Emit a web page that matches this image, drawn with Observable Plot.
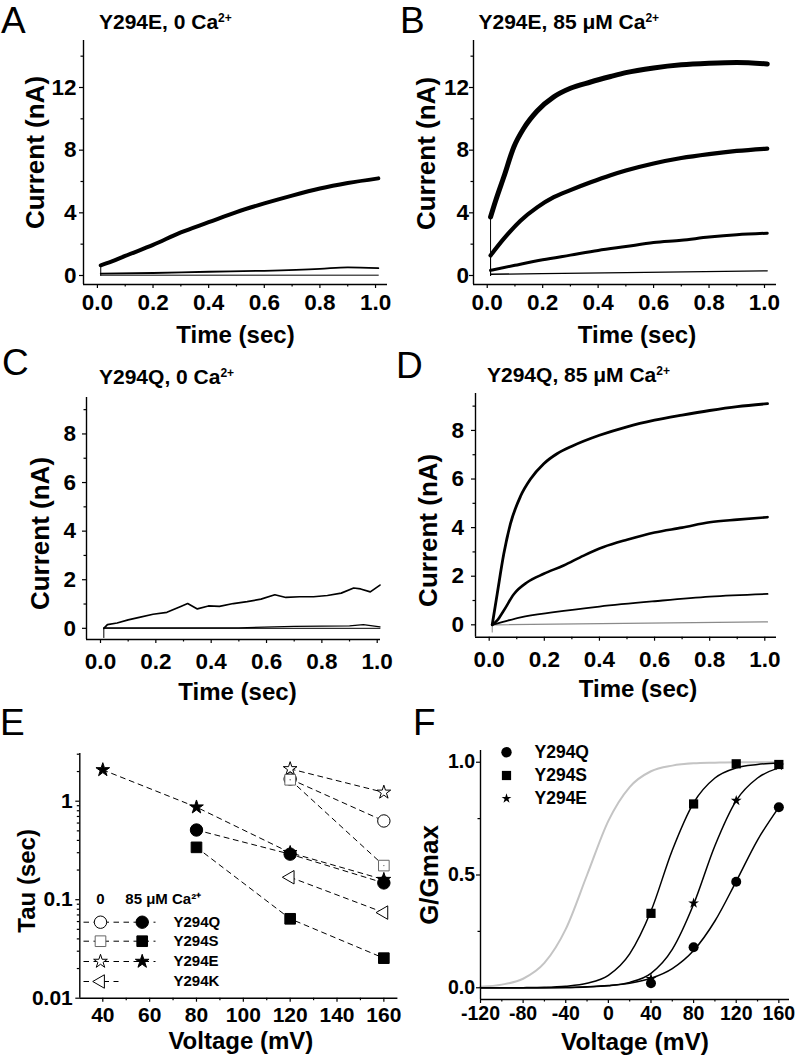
<!DOCTYPE html>
<html><head><meta charset="utf-8">
<script src="https://cdn.jsdelivr.net/npm/d3@7"></script>
<script src="https://cdn.jsdelivr.net/npm/@observablehq/plot@0.6"></script>
<style>
body{margin:0;background:#fff;}
#fig{position:relative;width:796px;height:1056px;overflow:hidden;font-family:"Liberation Sans",Arial,Helvetica,sans-serif;color:#000;}
.panel{position:absolute;}
.letter{position:absolute;font-size:37px;line-height:1;font-weight:normal;}
.title{position:absolute;font-size:21px;font-weight:bold;line-height:1;white-space:nowrap;}
.title sup{font-size:12px;vertical-align:0.62em;line-height:0;}
</style>
</head><body>
<div id="fig">
  <div class="letter" style="left:1px;top:2px">A</div>
  <div class="letter" style="left:400px;top:2px">B</div>
  <div class="letter" style="left:2px;top:344px">C</div>
  <div class="letter" style="left:396px;top:347px">D</div>
  <div class="letter" style="left:0px;top:704px">E</div>
  <div class="letter" style="left:413px;top:704px">F</div>
  <div class="title" style="left:99px;top:10.5px">Y294E, 0 Ca<sup>2+</sup></div>
  <div class="title" style="left:478.5px;top:10.5px">Y294E, 85 μM Ca<sup>2+</sup></div>
  <div class="title" style="left:99px;top:365.5px">Y294Q, 0 Ca<sup>2+</sup></div>
  <div class="title" style="left:487px;top:364px">Y294Q, 85 μM Ca<sup>2+</sup></div>
  <div class="panel" id="pA" style="left:0;top:0"></div>
  <div class="panel" id="pB" style="left:398px;top:0"></div>
  <div class="panel" id="pC" style="left:0;top:350px"></div>
  <div class="panel" id="pD" style="left:398px;top:350px"></div>
  <div class="panel" id="pE" style="left:0;top:700px"></div>
  <div class="panel" id="pF" style="left:398px;top:700px"></div>
</div>
<script>
// ---------- Panel A: Y294E, 0 Ca ----------
const A_t1 = [0.012, 0.012, 0.05, 0.1, 0.2, 0.3, 0.4, 0.5, 0.6, 0.7, 0.8, 0.9, 1.01];
const A_i1 = [0.0, 0.65, 0.88, 1.25, 1.95, 2.75, 3.4, 4.05, 4.6, 5.1, 5.55, 5.9, 6.2];
const A_t2 = [0.012, 0.2, 0.4, 0.6, 0.8, 0.9, 1.01];
const A_i2 = [0.12, 0.16, 0.24, 0.3, 0.42, 0.52, 0.47];
const A_t3 = [0.012, 1.01];
const A_i3 = [0.02, 0.02];
// ---------- Panel B: Y294E, 85 uM Ca ----------
const B_t1 = [0.012, 0.012, 0.03, 0.06, 0.096, 0.132, 0.18, 0.24, 0.3, 0.373, 0.445, 0.5, 0.6, 0.7, 0.8, 0.9, 1.01];
const B_i1 = [0.0, 3.73, 4.75, 6.3, 8.2, 9.4, 10.5, 11.4, 11.95, 12.35, 12.7, 12.95, 13.25, 13.45, 13.55, 13.6, 13.5];
const B_t2 = [0.012, 0.012, 0.06, 0.12, 0.18, 0.24, 0.3, 0.373, 0.445, 0.5, 0.6, 0.7, 0.8, 0.9, 1.01];
const B_i2 = [0.0, 1.28, 2.35, 3.5, 4.35, 5.0, 5.45, 5.95, 6.4, 6.7, 7.15, 7.5, 7.75, 7.95, 8.1];
const B_t3 = [0.012, 0.012, 0.1, 0.2, 0.3, 0.4, 0.5, 0.6, 0.7, 0.8, 0.9, 1.01];
const B_i3 = [0.0, 0.33, 0.65, 1.0, 1.3, 1.6, 1.85, 2.1, 2.25, 2.45, 2.6, 2.7];
const B_t4 = [0.012, 0.5, 1.01];
const B_i4 = [0.08, 0.18, 0.3];
// ---------- Panel C: Y294Q, 0 Ca ----------
const C_t1 = [0.012, 0.025, 0.06, 0.1, 0.14, 0.19, 0.24, 0.29, 0.315, 0.35, 0.39, 0.43, 0.48, 0.53, 0.58, 0.63, 0.67, 0.72, 0.77, 0.82, 0.87, 0.915, 0.94, 0.975, 1.01];
const C_i1 = [0.0, 0.15, 0.22, 0.35, 0.45, 0.58, 0.66, 0.9, 1.02, 0.8, 0.92, 0.9, 1.02, 1.1, 1.2, 1.38, 1.27, 1.3, 1.3, 1.35, 1.45, 1.66, 1.62, 1.5, 1.78];
const C_t2 = [0.012, 0.5, 0.7, 0.9, 0.95, 1.01];
const C_i2 = [0.02, 0.02, 0.08, 0.1, 0.15, 0.06];
const C_t3 = [0.012, 0.012, 1.01];
const C_i3 = [-0.38, 0.0, 0.0];
// ---------- Panel D: Y294Q, 85 uM Ca ----------
const D_t1 = [0.011, 0.029, 0.053, 0.077, 0.114, 0.15, 0.198, 0.246, 0.3, 0.4, 0.5, 0.6, 0.7, 0.8, 0.9, 1.01];
const D_i1 = [0.0, 1.27, 2.92, 4.15, 5.3, 6.0, 6.63, 7.04, 7.35, 7.8, 8.15, 8.42, 8.63, 8.82, 8.98, 9.1];
const D_t2 = [0.011, 0.029, 0.053, 0.09, 0.138, 0.198, 0.27, 0.343, 0.415, 0.5, 0.6, 0.7, 0.8, 0.9, 1.01];
const D_i2 = [0.0, 0.18, 0.59, 1.27, 1.75, 2.1, 2.44, 2.85, 3.2, 3.5, 3.8, 4.0, 4.22, 4.33, 4.43];
const D_t3 = [0.011, 0.05, 0.114, 0.235, 0.4, 0.6, 0.8, 1.01];
const D_i3 = [0.0, 0.12, 0.31, 0.52, 0.75, 0.97, 1.16, 1.27];
const D_t4 = [0.011, 0.011, 1.01];
const D_i4 = [-0.3, 0.0, 0.12];
// ---------- Panel E: Tau vs voltage ----------
const tauV_0 = [120, 160];
const tauQ_0 = [1.68, 0.63];
const tauS_0 = [1.65, 0.222];
const tauE_0 = [2.13, 1.23];
const tauK_0 = [0.169, 0.074];
const tauV_85 = [80, 120, 160];
const tauQ_85 = [0.51, 0.29, 0.148];
const tauS_85 = [0.34, 0.064, 0.0255];
const tauV_E85 = [40, 80, 120, 160];
const tauE_85 = [2.08, 0.87, 0.30, 0.16];
const tauLegend = ["Y294Q", "Y294S", "Y294E", "Y294K"];
// ---------- Panel F: G/Gmax ----------
const gV = [40, 80, 120, 160];
const gQ = [0.02, 0.18, 0.47, 0.80];
const gS = [0.33, 0.815, 0.993, 0.99];
const gE = [0.04, 0.375, 0.83, 0.985];
const fitV = [-120, -100, -80, -60, -40, -20, 0, 20, 40, 60, 80, 100, 120, 140, 160];
const fitGray = [0.005, 0.014, 0.04, 0.11, 0.26, 0.5, 0.74, 0.89, 0.96, 0.985, 0.995, 0.998, 1.0, 1.0, 1.0];
const fitS = [0, 0, 0.0005, 0.002, 0.007, 0.02, 0.055, 0.15, 0.34, 0.61, 0.82, 0.93, 0.975, 0.99, 0.997];
const fitE = [0, 0, 0, 0.0005, 0.0012, 0.0035, 0.009, 0.024, 0.064, 0.17, 0.37, 0.63, 0.83, 0.93, 0.975];
const fitQ = [0, 0, 0.0003, 0.0006, 0.0013, 0.0045, 0.01, 0.02, 0.042, 0.085, 0.165, 0.296, 0.472, 0.655, 0.80];
const fLegend = ["Y294Q", "Y294S", "Y294E"];

// tick labels
const timeTicks = [0, 0.2, 0.4, 0.6, 0.8, 1.0];
const timeMinor = [0.1, 0.3, 0.5, 0.7, 0.9];
const curTicksAB = [0, 4, 8, 12];
const curMinorAB = [2, 6, 10, 14];
const curTicksCD = [0, 2, 4, 6, 8];
const curMinorCD = [1, 3, 5, 7, 9];
const tauTicks = [0.01, 0.1, 1];
const tauMinor = [0.02,0.03,0.04,0.05,0.06,0.07,0.08,0.09,0.2,0.3,0.4,0.5,0.6,0.7,0.8,0.9,2,3];
const vTicksE = [40, 60, 80, 100, 120, 140, 160];
const vMinorE = [50, 70, 90, 110, 130, 150];
const vTicksF = [-120, -80, -40, 0, 40, 80, 120, 160];
const vMinorF = [-100, -60, -20, 20, 60, 100, 140];
const gTicks = [0, 0.5, 1.0];
const gMinor = [0.25, 0.75];

const FONT = '"Liberation Sans", Arial, Helvetica, sans-serif';
const pts = (t, v) => t.map((d, k) => ({x: d, y: v[k]}));
const fmt1 = d3.format(".1f");

function axes(o) {
  return [
    Plot.ruleX([o.xDomain[0]], {stroke: "black", strokeWidth: 1.4}),
    Plot.ruleY([o.yDomain[0]], {stroke: "black", strokeWidth: 1.4}),
    Plot.axisX({ticks: o.xTicks, tickFormat: o.xFmt, tickSize: 4, tickPadding: o.xPad, fontSize: o.tickFont, fontWeight: "bold", label: null, strokeWidth: 1.2}),
    Plot.axisX({ticks: o.xMinor, tickFormat: () => "", tickSize: 2.5, label: null, strokeWidth: 1.2}),
    Plot.axisY({ticks: o.yTicks, tickFormat: o.yFmt, tickSize: 4, tickPadding: o.yPad, fontSize: o.tickFont, fontWeight: "bold", label: null, strokeWidth: 1.2}),
    Plot.axisY({ticks: o.yMinor, tickFormat: () => "", tickSize: 2.5, label: null, strokeWidth: 1.2}),
    Plot.text([o.xLabel], {text: d => d, frameAnchor: "bottom", textAnchor: "middle", lineAnchor: "middle", dx: o.xlDx, dy: o.xlDy, fontSize: o.xlFont, fontWeight: "bold"}),
    Plot.text([o.yLabel], {text: d => d, frameAnchor: "left", textAnchor: "middle", lineAnchor: "middle", rotate: -90, dx: o.ylDx, dy: o.ylDy, fontSize: o.ylFont, fontWeight: "bold"})
  ];
}

// split a trace at its onset step (two samples at the same time) so the step is drawn straight
function traceMarks(tr) {
  const color = tr.color || "black";
  const out = [];
  let start = 0;
  if (tr.t.length > 2 && tr.t[0] === tr.t[1]) {
    out.push(Plot.line(pts(tr.t.slice(0, 2), tr.i.slice(0, 2)), {x: "x", y: "y", stroke: color, strokeWidth: 1, curve: "linear"}));
    start = 1;
  }
  out.push(Plot.line(pts(tr.t.slice(start), tr.i.slice(start)), {x: "x", y: "y", stroke: color, strokeWidth: tr.w, curve: tr.curve || "monotone-x", strokeLinejoin: "round"}));
  return out;
}

function tracePanel(o) {
  const marks = o.traces.flatMap(traceMarks);
  return Plot.plot({
    width: 398, height: o.height,
    marginLeft: o.m[0], marginRight: o.m[1], marginTop: o.m[2], marginBottom: o.m[3],
    x: {domain: o.xDomain}, y: {domain: o.yDomain},
    style: {fontFamily: FONT, background: "transparent", overflow: "visible", color: "black"},
    marks: [
      ...marks,
      ...axes({
        xDomain: o.xDomain, yDomain: o.yDomain,
        xTicks: timeTicks, xMinor: timeMinor, xFmt: fmt1, xPad: o.xPad,
        yTicks: o.yTicks, yMinor: o.yMinor, yFmt: d => String(d), yPad: o.yPad,
        tickFont: 22.5, xLabel: "Time (sec)", yLabel: "Current (nA)",
        xlDx: o.xlDx, xlDy: o.xlDy, xlFont: 24, ylDx: o.ylDx, ylDy: o.ylDy, ylFont: 26
      })
    ]
  });
}

document.getElementById("pA").append(tracePanel({
  height: 350, m: [83, 11, 40, 66], xDomain: [-0.05, 1.043], yDomain: [-0.575, 15.0],
  yTicks: curTicksAB, yMinor: curMinorAB, xPad: 6, yPad: 3,
  xlDx: 0, xlDy: 51, ylDx: -48, ylDy: -10,
  traces: [
    {t: A_t3, i: A_i3, w: 1},
    {t: A_t2, i: A_i2, w: 1.8},
    {t: A_t1, i: A_i1, w: 4}
  ]
}));

document.getElementById("pB").append(tracePanel({
  height: 350, m: [75, 20, 40, 66], xDomain: [-0.0495, 1.0433], yDomain: [-0.575, 15.0],
  yTicks: curTicksAB, yMinor: curMinorAB, xPad: 6, yPad: 0.5,
  xlDx: 12, xlDy: 51, ylDx: -47, ylDy: -9,
  traces: [
    {t: B_t4, i: B_i4, w: 1.3},
    {t: B_t3, i: B_i3, w: 3},
    {t: B_t2, i: B_i2, w: 4.2},
    {t: B_t1, i: B_i1, w: 5}
  ]
}));

document.getElementById("pC").append(tracePanel({
  height: 355, m: [86, 18, 47, 66], xDomain: [-0.0506, 1.0119], yDomain: [-0.46, 9.5],
  yTicks: curTicksCD, yMinor: curMinorCD, xPad: 9.5, yPad: 6.5,
  xlDx: 4, xlDy: 52.7, ylDx: -46, ylDy: 15,
  traces: [
    {t: C_t3, i: C_i3, w: 1, curve: "linear"},
    {t: C_t2, i: C_i2, w: 1.3, curve: "linear"},
    {t: C_t1, i: C_i1, w: 1.7, curve: "linear"}
  ]
}));

document.getElementById("pD").append(tracePanel({
  height: 355, m: [77, 20, 43, 68.3], xDomain: [-0.0497, 1.0425], yDomain: [-0.51, 9.52],
  yTicks: curTicksCD, yMinor: curMinorCD, xPad: 9.5, yPad: 7.5,
  xlDx: 12, xlDy: 52.3, ylDx: -47, ylDy: 15,
  traces: [
    {t: D_t4, i: D_i4, w: 1.2, color: "#8a8a8a", curve: "linear"},
    {t: D_t3, i: D_i3, w: 1.8},
    {t: D_t2, i: D_i2, w: 2.6},
    {t: D_t1, i: D_i1, w: 2.8}
  ]
}));

// ---------- Panel E ----------
const dashSym = len => ({draw(ctx) { for (let x = 0; x < len; x += 10) { ctx.moveTo(x, 0); ctx.lineTo(Math.min(x + 5.5, len), 0); } }});
const dashLine = {stroke: "black", strokeWidth: 1, strokeDasharray: "5,4.5"};
const openS = {fill: "white", stroke: "black", strokeWidth: 1};
const fillS = {fill: "black", stroke: "black", strokeWidth: 1};
const symE = {
  Q: {symbol: "circle", r: 6.2},
  S: {symbol: "square", r: 6},
  E: {symbol: "star", r: 4.3},
  K: {symbol: "triangle", r: 5, rotate: -90}
};
const rowDy = [-76, -57, -36.7, -16.7];
const rowKeys = ["Q", "S", "E", "K"];
const legendE = [];
rowKeys.forEach((k, r) => {
  const has85 = k !== "K";
  legendE.push(Plot.dot([0], {frameAnchor: "bottom-left", dx: 3.7, dy: rowDy[r], symbol: dashSym(has85 ? 72 : 35), r: 1, fill: "none", stroke: "black", strokeWidth: 1}));
  legendE.push(Plot.dot([0], {frameAnchor: "bottom-left", dx: 20.7, dy: rowDy[r], ...symE[k], ...openS, stroke: k === "S" ? "#666" : "black"}));
  if (has85) legendE.push(Plot.dot([0], {frameAnchor: "bottom-left", dx: 62.4, dy: rowDy[r], ...symE[k], ...fillS}));
  legendE.push(Plot.text([tauLegend[r]], {text: d => d, frameAnchor: "bottom-left", textAnchor: "start", lineAnchor: "middle", dx: 93.7, dy: rowDy[r], fontSize: 15, fontWeight: "bold"}));
});
legendE.push(Plot.text(["0"], {text: d => d, frameAnchor: "bottom-left", textAnchor: "middle", lineAnchor: "middle", dx: 20.7, dy: -98.7, fontSize: 15, fontWeight: "bold"}));
legendE.push(Plot.text(["85 μM Ca²⁺"], {text: d => d, frameAnchor: "bottom-left", textAnchor: "start", lineAnchor: "middle", dx: 45.5, dy: -98.7, fontSize: 15, fontWeight: "bold"}));

const eDomX = [30.18, 166], eDomY = [0.01, 3.05];
document.getElementById("pE").append(Plot.plot({
  width: 398, height: 356,
  marginLeft: 79.3, marginRight: 0.6, marginTop: 53, marginBottom: 58.3,
  x: {domain: eDomX}, y: {type: "log", domain: eDomY},
  style: {fontFamily: FONT, background: "transparent", overflow: "visible", color: "black"},
  marks: [
    Plot.line(pts(tauV_0, tauQ_0), {x: "x", y: "y", ...dashLine}),
    Plot.line(pts(tauV_0, tauS_0), {x: "x", y: "y", ...dashLine}),
    Plot.line(pts(tauV_0, tauE_0), {x: "x", y: "y", ...dashLine}),
    Plot.line(pts(tauV_0, tauK_0), {x: "x", y: "y", ...dashLine}),
    Plot.line(pts(tauV_85, tauQ_85), {x: "x", y: "y", ...dashLine}),
    Plot.line(pts(tauV_85, tauS_85), {x: "x", y: "y", ...dashLine}),
    Plot.line(pts(tauV_E85, tauE_85), {x: "x", y: "y", ...dashLine}),
    Plot.dot(pts(tauV_0, tauQ_0), {x: "x", y: "y", ...symE.Q, ...openS}),
    Plot.dot(pts(tauV_0, tauE_0), {x: "x", y: "y", ...symE.E, ...openS}),
    Plot.dot(pts(tauV_0, tauS_0), {x: "x", y: "y", ...symE.S, ...openS, stroke: "#666"}),
    Plot.dot(pts(tauV_0, tauS_0), {x: "x", y: "y", r: 0.7, fill: "#666"}),
    Plot.dot(pts(tauV_0, tauK_0), {x: "x", y: "y", ...symE.K, ...openS}),
    Plot.dot(pts(tauV_E85, tauE_85), {x: "x", y: "y", ...symE.E, ...fillS}),
    Plot.dot(pts(tauV_85, tauQ_85), {x: "x", y: "y", ...symE.Q, ...fillS}),
    Plot.dot(pts(tauV_85, tauS_85), {x: "x", y: "y", ...symE.S, ...fillS}),
    ...legendE,
    ...axes({
      xDomain: eDomX, yDomain: eDomY,
      xTicks: vTicksE, xMinor: vMinorE, xFmt: d => String(d), xPad: 4.5,
      yTicks: tauTicks, yMinor: tauMinor, yFmt: d => String(d), yPad: 3,
      tickFont: 21, xLabel: "Voltage (mV)", yLabel: "Tau (sec)",
      xlDx: 2, xlDy: 43, xlFont: 24, ylDx: -52, ylDy: 5, ylFont: 24
    })
  ]
}));

// ---------- Panel F ----------
const fDomX = [-120, 170], fDomY = [-0.052, 1.052];
const legF = [
  {symbol: "circle", r: 5.2},
  {symbol: "square", r: 5.2},
  {symbol: "star", r: 3.1}
];
const legFDy = [1.7, 25, 48];
const legendF = [];
fLegend.forEach((name, r) => {
  legendF.push(Plot.dot([0], {frameAnchor: "top-left", dx: 26, dy: legFDy[r], ...legF[r], fill: "black"}));
  legendF.push(Plot.text([name], {text: d => d, frameAnchor: "top-left", textAnchor: "start", lineAnchor: "middle", dx: 54, dy: legFDy[r], fontSize: 17.5, fontWeight: "bold"}));
});
document.getElementById("pF").append(Plot.plot({
  width: 398, height: 356,
  marginLeft: 82, marginRight: 7, marginTop: 50, marginBottom: 57,
  x: {domain: fDomX}, y: {domain: fDomY},
  style: {fontFamily: FONT, background: "transparent", overflow: "visible", color: "black"},
  marks: [
    Plot.line(pts(fitV, fitGray), {x: "x", y: "y", stroke: "#c4c4c4", strokeWidth: 2, curve: "monotone-x"}),
    Plot.line(pts(fitV, fitS), {x: "x", y: "y", stroke: "black", strokeWidth: 1.5, curve: "monotone-x"}),
    Plot.line(pts(fitV, fitE), {x: "x", y: "y", stroke: "black", strokeWidth: 1.5, curve: "monotone-x"}),
    Plot.line(pts(fitV, fitQ), {x: "x", y: "y", stroke: "black", strokeWidth: 1.5, curve: "monotone-x"}),
    Plot.dot(pts(gV, gE), {x: "x", y: "y", symbol: "star", r: 3.4, fill: "black"}),
    Plot.dot(pts(gV, gQ), {x: "x", y: "y", symbol: "circle", r: 5, fill: "black"}),
    Plot.dot(pts(gV, gS), {x: "x", y: "y", symbol: "square", r: 5.2, fill: "black"}),
    ...legendF,
    ...axes({
      xDomain: fDomX, yDomain: fDomY,
      xTicks: vTicksF, xMinor: vMinorF, xFmt: d => String(d), xPad: 3,
      yTicks: gTicks, yMinor: gMinor, yFmt: fmt1, yPad: 1.5,
      tickFont: 19.5, xLabel: "Voltage (mV)", yLabel: "G/Gmax",
      xlDx: 0, xlDy: 42.7, xlFont: 24.5, ylDx: -51, ylDy: 0, ylFont: 26
    })
  ]
}));
</script>
</body></html>
